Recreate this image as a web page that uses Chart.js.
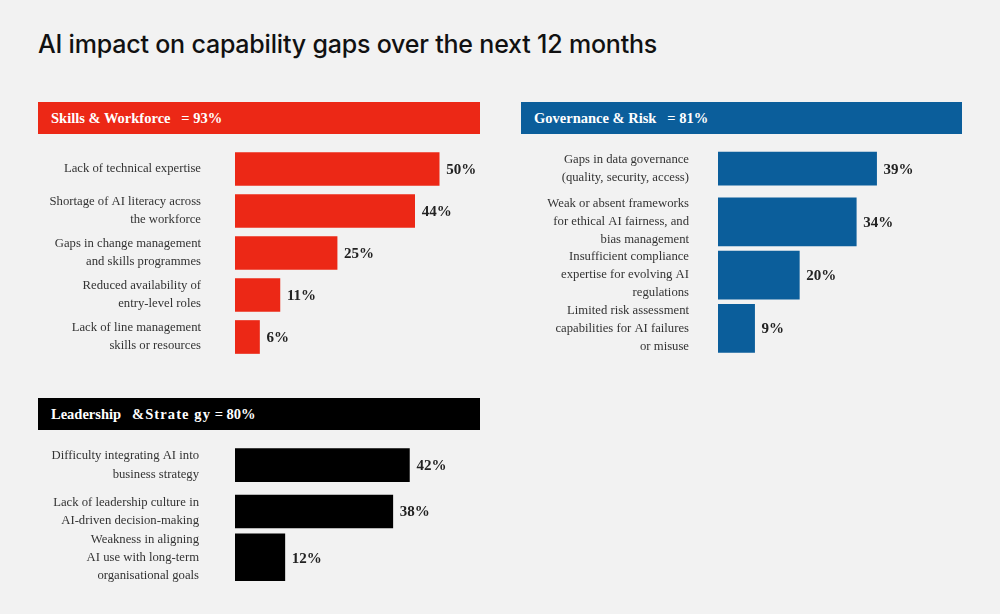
<!DOCTYPE html>
<html lang="en">
<head>
  <meta charset="UTF-8">
  <title>AI impact on capability gaps over the next 12 months</title>
  <script src="https://cdn.jsdelivr.net/npm/chart.js"></script>
  <style>
    body {
      margin: 0;
      background: #f2f2f2;
      width: 1000px;
      height: 614px;
      position: relative;
      overflow: hidden;
    }
    h1 {
      position: absolute;
      left: 38px;
      top: 29px;
      margin: 0;
      font-family: 'Inter', sans-serif;
      font-weight: 500;
      font-size: 25px;
      line-height: 30px;
      letter-spacing: -0.2px;
      color: #111;
    }
    .head {
      position: absolute;
      height: 32px;
      line-height: 33px;
      padding-left: 13px;
      box-sizing: border-box;
      color: #fff;
      font-family: 'Liberation Serif', serif;
      font-weight: bold;
      font-size: 14.5px;
      white-space: pre;
    }
    .head .wide { letter-spacing: 1.1px; }
    canvas { position: absolute; }
  </style>
</head>
<body>
  <h1>AI impact on capability gaps over the next 12 months</h1>

  <div class="head" style="left:38px;top:102px;width:442px;background:#ec2816">Skills &amp; Workforce   = 93%</div>
  <div class="head" style="left:521px;top:102px;width:441px;background:#0b5e9b">Governance &amp; Risk   = 81%</div>
  <div class="head" style="left:38px;top:398px;width:442px;background:#000">Leadership   <span class="wide">&amp;Strate gy</span> = 80%</div>

  <canvas id="skills" width="442" height="210" style="left:38px;top:148px"></canvas>
  <canvas id="gov" width="441" height="219" style="left:521px;top:142px"></canvas>
  <canvas id="lead" width="442" height="147" style="left:38px;top:442px"></canvas>

  <script>
    const skillsLabels = [
      'Lack of technical expertise',
      ['Shortage of AI literacy across', 'the workforce'],
      ['Gaps in change management', 'and skills programmes'],
      ['Reduced availability of', 'entry-level roles'],
      ['Lack of line management', 'skills or resources']
    ];
    const skillsValues = [50, 44, 25, 11, 6];

    const govLabels = [
      ['Gaps in data governance', '(quality, security, access)'],
      ['Weak or absent frameworks', 'for ethical AI fairness, and', 'bias management'],
      ['Insufficient compliance', 'expertise for evolving AI', 'regulations'],
      ['Limited risk assessment', 'capabilities for AI failures', 'or misuse']
    ];
    const govValues = [39, 34, 20, 9];

    const leadLabels = [
      ['Difficulty integrating AI into', 'business strategy'],
      ['Lack of leadership culture in', 'AI-driven decision-making'],
      ['Weakness in aligning', 'AI use with long-term', 'organisational goals']
    ];
    const leadValues = [42, 38, 12];

    const valueLabels = {
      id: 'valueLabels',
      afterDatasetsDraw(chart) {
        const ctx = chart.ctx;
        ctx.save();
        ctx.font = 'bold 15px "Liberation Serif", serif';
        ctx.fillStyle = '#222';
        ctx.textBaseline = 'middle';
        ctx.textAlign = 'left';
        chart.data.datasets.forEach((ds, di) => {
          chart.getDatasetMeta(di).data.forEach((bar, i) => {
            if (ds.data[i] == null) return;
            ctx.fillText(ds.data[i] + '%', bar.x + 7, bar.y + 1);
          });
        });
        ctx.restore();
      }
    };

    function makeChart(id, labels, values, color, max, padding, bottom) {
      // three-line labels get a thicker bar, as in the original
      const lines = labels.map(l => Array.isArray(l) ? l.length : 1);
      new Chart(document.getElementById(id), {
        type: 'bar',
        data: {
          labels: labels,
          datasets: [
            {
              data: values.map((v, i) => lines[i] < 3 ? v : null),
              backgroundColor: color,
              barThickness: 33
            },
            {
              data: values.map((v, i) => lines[i] >= 3 ? v : null),
              backgroundColor: color,
              barThickness: 48
            }
          ]
        },
        options: {
          indexAxis: 'y',
          responsive: false,
          animation: false,
          grouped: false,
          layout: { padding: { bottom: bottom } },
          plugins: {
            legend: { display: false },
            tooltip: { enabled: false }
          },
          scales: {
            x: { display: false, min: 0, max: max },
            y: {
              grid: { display: false, drawTicks: false },
              border: { display: false },
              ticks: {
                autoSkip: false,
                color: '#333',
                padding: padding,
                font: { family: '"Liberation Serif", serif', size: 12.7, lineHeight: 1.42 }
              },
              afterFit(scale) {
                scale.width = 197;
                scale.paddingTop = 0;
                scale.paddingBottom = 0;
              }
            }
          }
        },
        plugins: [valueLabels]
      });
    }

    makeChart('skills', skillsLabels, skillsValues, '#ec2816', 60, 34, 0);
    makeChart('gov', govLabels, govValues, '#0b5e9b', 60, 29, 6);
    makeChart('lead', leadLabels, leadValues, '#000', 59, 36, 8);
  </script>
</body>
</html>
